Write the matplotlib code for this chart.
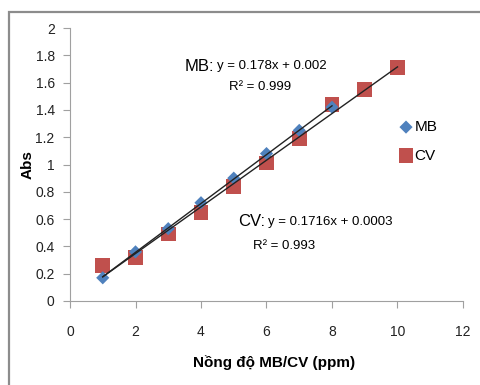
import matplotlib.pyplot as plt
from matplotlib.patches import Rectangle
import numpy as np

plt.rcParams['font.family'] = ['Liberation Sans', 'DejaVu Sans']

# data
x_mb = [1, 2, 3, 4, 5, 6, 7, 8]
y_mb = [0.17, 0.36, 0.53, 0.72, 0.90, 1.08, 1.25, 1.42]
x_cv = [1, 2, 3, 4, 5, 6, 7, 8, 9, 10]
y_cv = [0.26, 0.32, 0.49, 0.65, 0.84, 1.01, 1.19, 1.44, 1.55, 1.71]
xticks = [0, 2, 4, 6, 8, 10, 12]
yticks = [0, 0.2, 0.4, 0.6, 0.8, 1, 1.2, 1.4, 1.6, 1.8, 2]
ylabels = ['0', '0.2', '0.4', '0.6', '0.8', '1', '1.2', '1.4', '1.6', '1.8', '2']

fig = plt.figure(figsize=(4.81, 3.85), dpi=100)
ax = fig.add_axes([70/481, 1 - 301/385, 393/481, 273/385])

# outer frame
fig.patches.append(Rectangle((9/481, -0.1), 1.2, 1.1 - 12/385, transform=fig.transFigure,
                             fill=False, edgecolor='#8c8c8c', linewidth=1.6))

ax.scatter(x_mb, y_mb, marker='D', s=45, color='#4F81BD', zorder=3, label='MB', edgecolors='none')
ax.scatter(x_cv, y_cv, marker='s', s=110, color='#C0504D', zorder=2, label='CV', edgecolors='none')

for xs, ys in [(x_mb, y_mb), (x_cv, y_cv)]:
    k, b = np.polyfit(xs, ys, 1)
    xx = np.array([xs[0], xs[-1]])
    ax.plot(xx, k*xx + b, color='#222222', lw=1.0, zorder=4)

ax.set_xlim(0, 12)
ax.set_ylim(0, 2)
ax.set_xticks(xticks)
ax.set_yticks(yticks)
ax.set_yticklabels(ylabels)
ax.tick_params(labelsize=10, labelcolor='#222222', color='#a0a0a0', length=5, width=0.8)
for s in ['top', 'right']:
    ax.spines[s].set_visible(False)
for s in ['left', 'bottom']:
    ax.spines[s].set_color('#a0a0a0')
ax.tick_params(axis='x', pad=12)
ax.tick_params(axis='y', pad=6)

ax.set_xlabel('Nồng độ MB/CV (ppm)', fontsize=11, fontweight='bold')
ax.set_ylabel('Abs', fontsize=11, fontweight='bold')
ax.xaxis.set_label_coords(0.52, -0.2)
ax.yaxis.set_label_coords(-0.089, 0.5)

ax.text(4.4, 1.72, 'MB:', fontsize=12, ha='right', va='center')
ax.text(4.5, 1.72, 'y = 0.178x + 0.002', fontsize=9.5, ha='left', va='center')
ax.text(5.8, 1.57, 'R² = 0.999', fontsize=9.5, ha='center', va='center')
ax.text(5.95, 0.58, 'CV:', fontsize=12, ha='right', va='center')
ax.text(6.05, 0.58, 'y = 0.1716x + 0.0003', fontsize=9.5, ha='left', va='center')
ax.text(6.55, 0.40, 'R² = 0.993', fontsize=9.5, ha='center', va='center')

leg = ax.legend(loc='upper left', bbox_to_anchor=(0.82, 0.685), frameon=False, fontsize=11,
                handletextpad=0.05, labelspacing=0.95, handlelength=1.0, borderaxespad=0)

fig.savefig('out.png', dpi=100)
